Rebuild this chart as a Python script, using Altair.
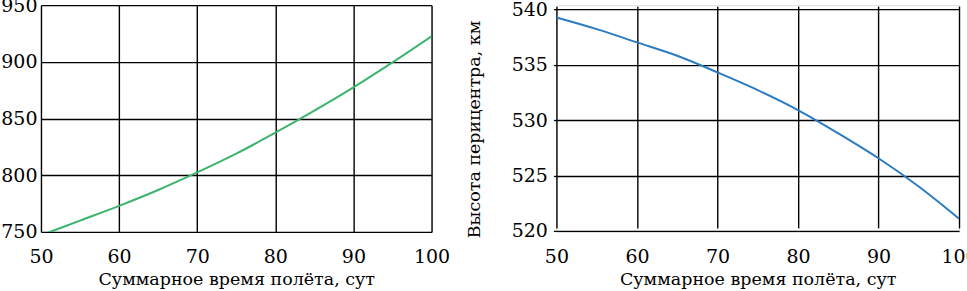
import altair as alt
import pandas as pd

days = [50, 55, 60, 65, 70, 75, 80, 85, 90, 95, 100]
apocenter = [747.0, 760.0, 773.0, 787.0, 802.5, 819.0, 837.5, 857.0, 877.5, 899.5, 922.5]
pericenter = [539.25, 538.2, 537.0, 535.8, 534.3, 532.7, 530.9, 528.8, 526.55, 524.0, 521.1]

x_ticks = [50, 60, 70, 80, 90, 100]
y1_ticks = [750, 800, 850, 900, 950]
y2_ticks = [520, 525, 530, 535, 540]

x_title = "Суммарное время полёта, сут"
y2_title = "Высота перицентра, км"

FONT = "DejaVu Serif"

df1 = pd.DataFrame({"t": days, "v": apocenter})
df2 = pd.DataFrame({"t": days, "v": pericenter})

common = dict(grid=True, gridColor="black", gridWidth=1.4, gridOpacity=1, domain=False,
              labelFont=FONT, labelFontSize=19, labelColor="black", labelFlush=False)

def axis_x():
    return alt.Axis(values=x_ticks, title=x_title, ticks=False, labelPadding=16,
                    titleFont=FONT, titleFontSize=17.5, titleFontWeight="normal",
                    titleColor="black", titlePadding=4, **common)

left = alt.Chart(df1).mark_line(color="#3cb46e", strokeWidth=2, clip=True,
                                interpolate="monotone").encode(
    x=alt.X("t:Q", scale=alt.Scale(domain=[50, 100], nice=False), axis=axis_x()),
    y=alt.Y("v:Q", scale=alt.Scale(domain=[750, 950], nice=False),
            axis=alt.Axis(values=y1_ticks, title=None, ticks=False, labelPadding=4, **common)),
).properties(width=391, height=227)

right = alt.Chart(df2).mark_line(color="#2a7cc2", strokeWidth=2, clip=True,
                                 interpolate="monotone").encode(
    x=alt.X("t:Q", scale=alt.Scale(domain=[50, 100], nice=False), axis=axis_x()),
    y=alt.Y("v:Q", scale=alt.Scale(domain=[520, 540], nice=False, range=[226, 4]),
            axis=alt.Axis(values=y2_ticks, title=y2_title, ticks=True, tickSize=3,
                          tickColor="black", tickWidth=1.3, labelPadding=6,
                          titleFont=FONT, titleFontSize=17.5, titleFontWeight="normal",
                          titleColor="black", titlePadding=28, titleY=124, **common)),
).properties(width=403, height=227)

chart = alt.hconcat(left, right, spacing=14).properties(
    padding={"left": 0, "top": -5, "right": -11, "bottom": 0}
).configure_view(stroke=None).configure(background="white")

chart.save("out.html", embed_options={"renderer": "svg", "actions": False})
